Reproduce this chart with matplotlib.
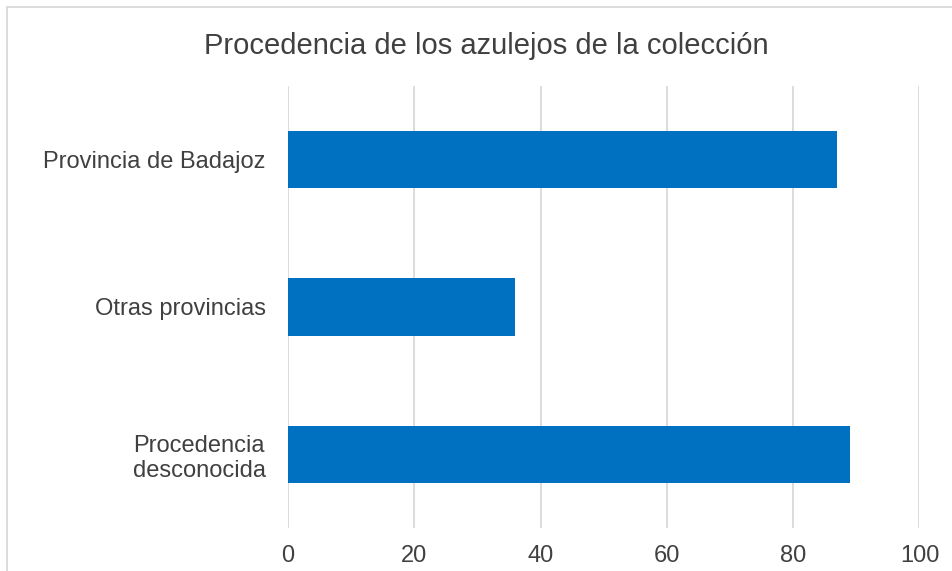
import matplotlib.pyplot as plt
from matplotlib.patches import Rectangle

plt.rcParams['font.family'] = ['Liberation Sans', 'DejaVu Sans']

# procedencia de los azulejos
categorias = ['Procedencia\ndesconocida', 'Otras provincias', 'Provincia de Badajoz']
valores = [89, 36, 87]
ticks_x = [0, 20, 40, 60, 80, 100]

fig = plt.figure(figsize=(9.52, 5.71), dpi=100)
ax = fig.add_axes([288 / 952, 43 / 571, 631.5 / 952, 442 / 571])

ax.barh(range(len(categorias)), valores, height=0.39, color='#0070C0', zorder=3)

ax.set_xlim(0, 100)
ax.set_ylim(-0.5, 2.5)
ax.set_xticks(ticks_x)
ax.set_yticks(range(len(categorias)))
ax.set_yticklabels(categorias, multialignment='center')
ax.grid(axis='x', color='#d9d9d9', linewidth=1.3, zorder=0)
for s in ax.spines.values():
    s.set_visible(False)
ax.tick_params(axis='both', length=0, labelsize=17, colors='#404040')
ax.tick_params(axis='x', pad=12)
ax.tick_params(axis='y', pad=16)

fig.text(486 / 952, 1 - 46 / 571, 'Procedencia de los azulejos de la colección',
         ha='center', va='center', fontsize=21, color='#404040')

# marco del gráfico
fig.patches.append(Rectangle((7 / 952, -0.1), 1.2, 1 - 7 / 571 + 0.1,
                             transform=fig.transFigure, fill=False,
                             edgecolor='#d9d9d9', linewidth=1.3))

fig.savefig('out.png', dpi=100)
